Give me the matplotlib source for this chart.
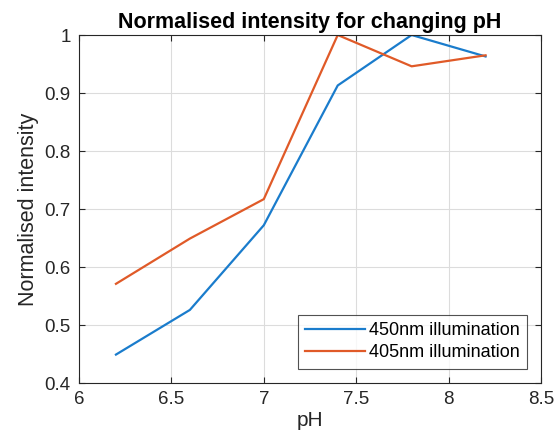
import matplotlib
matplotlib.use("Agg")
import matplotlib.pyplot as plt

# pH values and normalised intensities
ph = [6.2, 6.6, 7.0, 7.4, 7.8, 8.2]
i450 = [0.449, 0.526, 0.672, 0.913, 1.0, 0.963]
i405 = [0.571, 0.649, 0.717, 1.0, 0.946, 0.965]
xticks = [6, 6.5, 7, 7.5, 8, 8.5]
xticklabels = ["6", "6.5", "7", "7.5", "8", "8.5"]
yticks = [0.4, 0.5, 0.6, 0.7, 0.8, 0.9, 1.0]
yticklabels = ["0.4", "0.5", "0.6", "0.7", "0.8", "0.9", "1"]

plt.rcParams['font.family'] = ['Liberation Sans', 'DejaVu Sans']

fig = plt.figure(figsize=(5.57, 4.47), dpi=100)
ax = fig.add_axes([79/557, 1-383/447, (541-79)/557, (383-35)/447])

ax.plot(ph, i450, color='#1a7ccc', lw=1.6, label='450nm illumination')
ax.plot(ph, i405, color='#e05a28', lw=1.6, label='405nm illumination')

ax.set_xlim(6, 8.5)
ax.set_ylim(0.4, 1)
ax.set_xticks(xticks)
ax.set_xticklabels(xticklabels)
ax.set_yticks(yticks)
ax.set_yticklabels(yticklabels)
ax.grid(True, color='#dcdcdc', lw=0.8)
ax.set_axisbelow(True)
ax.tick_params(direction='in', top=True, right=True, labelsize=13.5,
               colors='#262626', length=4, width=0.8, pad=6)
for s in ax.spines.values():
    s.set_color('#262626')
    s.set_linewidth(0.8)

ax.set_xlabel('pH', fontsize=15, color='#262626', labelpad=2)
ax.set_ylabel('Normalised intensity', fontsize=15.5, color='#262626', labelpad=4)
ax.set_title('Normalised intensity for changing pH', fontsize=15.5,
             fontweight='bold', color='black', pad=5)

leg = ax.legend(loc='lower right', fontsize=13, frameon=True, fancybox=False,
                edgecolor='#262626', handlelength=3.3, borderaxespad=0.8,
                borderpad=0.4, labelspacing=0.3, handletextpad=0.2)
leg.get_frame().set_linewidth(0.8)

fig.savefig('out.png', dpi=100)
